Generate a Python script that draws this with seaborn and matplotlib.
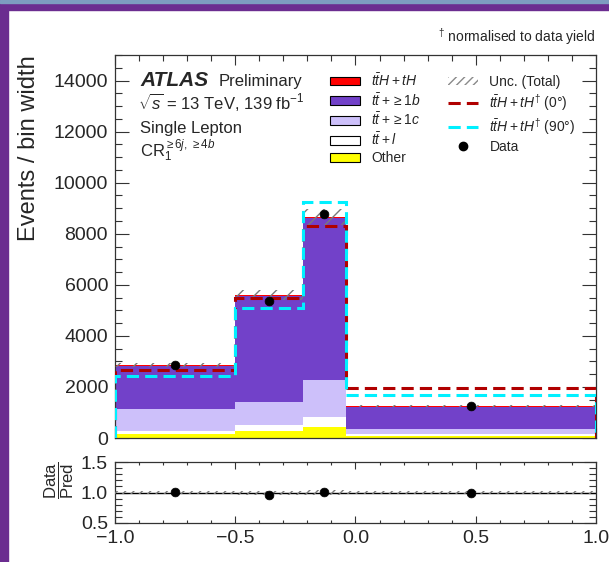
import matplotlib
matplotlib.use('Agg')
import matplotlib.pyplot as plt
from matplotlib.patches import Patch, Rectangle
from matplotlib.lines import Line2D
from matplotlib.ticker import MultipleLocator
import numpy as np
import pandas as pd
import seaborn as sns

# Binning and yields (events / bin width)
edges = [-1.0, -0.5, -0.22, -0.04, 1.0]
other = [157, 287, 444, 60]
ttl = [130, 224, 370, 100]
ttc = [853, 916, 1467, 180]
ttb = [1664, 4129, 6331, 880]
tth = [55, 40, 51, 40]
unc = [90, 184, 303, 35]
tth_0deg = [2674, 5494, 8310, 1954]
tth_90deg = [2438, 5085, 9229, 1690]
data = [2870, 5360, 8770, 1255]

# seaborn stacks the last hue level at the bottom
samples = ['ttH', 'ttb', 'ttc', 'ttl', 'Other']
colors = {'Other': '#ffff00', 'ttl': '#ffffff', 'ttc': '#cdc0fa',
          'ttb': '#7241c9', 'ttH': '#ff0000'}

centers = [(lo + hi) / 2 for lo, hi in zip(edges[:-1], edges[1:])]
df = pd.DataFrame({
    'center': centers * 5,
    'yield': tth + ttb + ttc + ttl + other,
    'sample': [s for s in samples for _ in centers],
})
total = np.array(other) + np.array(ttl) + np.array(ttc) + np.array(ttb) + np.array(tth)
unc = np.array(unc)
data = np.array(data)

sns.set_theme(style='ticks')
plt.rcParams['font.family'] = ['Liberation Sans', 'DejaVu Sans']
plt.rcParams['mathtext.fontset'] = 'custom'
plt.rcParams['mathtext.rm'] = 'Liberation Sans'
plt.rcParams['mathtext.it'] = 'Liberation Sans:italic'
plt.rcParams['mathtext.bf'] = 'Liberation Sans:bold'
plt.rcParams['hatch.color'] = '#7a7a7a'
plt.rcParams['hatch.linewidth'] = 1.0

fig = plt.figure(figsize=(6.09, 5.62), dpi=100)
ax = fig.add_axes([0.1888, 0.2206, 0.7898, 0.6815])
rax = fig.add_axes([0.1888, 0.0694, 0.7898, 0.1085], sharex=ax)

# stacked backgrounds
sns.histplot(data=df, x='center', weights='yield', hue='sample', hue_order=samples,
             palette=colors, bins=edges, multiple='stack', element='step',
             fill=True, alpha=1, linewidth=0, legend=False, ax=ax)

# uncertainty band
ax.stairs(total + unc, edges, baseline=total - unc, fill=True, facecolor='none',
          edgecolor='#7a7a7a', hatch='//', linewidth=0, zorder=3)

# signal shapes
ax.stairs(tth_0deg, edges, baseline=0, color='#b00000', linestyle=(0, (4, 2)),
          linewidth=2.2, zorder=4)
ax.stairs(tth_90deg, edges, baseline=0, color='#00f0ff', linestyle=(0, (4, 2)),
          linewidth=2.2, zorder=4)

# data
ax.errorbar(centers, data, yerr=np.sqrt(data), fmt='none', ecolor='black', lw=1, zorder=5)
sns.scatterplot(x=centers, y=data, color='black', s=40, edgecolor='black', ax=ax,
                zorder=6, legend=False)

ax.set_xlim(-1, 1)
ax.set_ylim(0, 15000)
ax.yaxis.set_major_locator(MultipleLocator(2000))
ax.yaxis.set_minor_locator(MultipleLocator(500))
ax.set_xlabel('')
ax.set_ylabel('Events / bin width', fontsize=17, loc='top')
ax.yaxis.set_label_coords(-0.155, 1.0)

# ratio panel
ratio = data / total
rel = unc / total
rax.stairs(1 + rel, edges, baseline=1 - rel, fill=True, facecolor='none',
           edgecolor='#7a7a7a', hatch='////', linewidth=0, zorder=3)
rax.axhline(1.0, color='black', lw=1, zorder=2)
sns.scatterplot(x=centers, y=ratio, color='black', s=40, edgecolor='black', ax=rax,
                zorder=6, legend=False)
rax.set_ylim(0.5, 1.5)
rax.yaxis.set_major_locator(MultipleLocator(0.5))
rax.yaxis.set_minor_locator(MultipleLocator(0.1))
rax.set_ylabel(r'$\dfrac{\mathrm{Data}}{\mathrm{Pred}}$', fontsize=12)
rax.yaxis.set_label_coords(-0.082, 0.7)

for a in (ax, rax):
    a.xaxis.set_major_locator(MultipleLocator(0.5))
    a.xaxis.set_minor_locator(MultipleLocator(0.1))
    a.tick_params(which='both', direction='in', top=True, right=True,
                  labelsize=14, pad=5, color='#333333', width=0.8)
    for sp in a.spines.values():
        sp.set_linewidth(0.9)
        sp.set_color('#333333')
ax.tick_params(axis='y', which='major', length=10)
ax.tick_params(axis='y', which='minor', length=5)
ax.tick_params(axis='x', which='major', length=7)
ax.tick_params(axis='x', which='minor', length=4)
ax.tick_params(labelbottom=False)
rax.tick_params(axis='y', which='major', length=9)
rax.tick_params(axis='y', which='minor', length=5)
rax.tick_params(axis='x', which='major', length=5)
rax.tick_params(axis='x', which='minor', length=2.5)
rax.set_xlabel('')

# labels
ax.text(0.052, 0.918, 'ATLAS', fontsize=15, fontweight='bold', fontstyle='italic',
        transform=ax.transAxes, va='baseline')
ax.text(0.216, 0.918, 'Preliminary', fontsize=12, transform=ax.transAxes, va='baseline')
ax.text(0.048, 0.860, r'$\sqrt{s}$ = 13 TeV, 139 fb$^{-1}$', fontsize=12,
        transform=ax.transAxes, va='baseline')
ax.text(0.052, 0.797, 'Single Lepton', fontsize=12, transform=ax.transAxes, va='baseline')
ax.text(0.052, 0.734, r'CR$_{1}^{\geq 6j,\,\geq 4b}$', fontsize=12,
        transform=ax.transAxes, va='baseline')
ax.text(1.0, 1.047, r'$^{\dagger}$ normalised to data yield', fontsize=10,
        transform=ax.transAxes, ha='right', va='center')

handles = [
    Patch(facecolor=colors['ttH'], edgecolor='black', linewidth=0.8),
    Patch(facecolor=colors['ttb'], edgecolor='black', linewidth=0.8),
    Patch(facecolor=colors['ttc'], edgecolor='black', linewidth=0.8),
    Patch(facecolor=colors['ttl'], edgecolor='black', linewidth=0.8),
    Patch(facecolor=colors['Other'], edgecolor='black', linewidth=0.8),
    Patch(facecolor='none', edgecolor='#8a8a8a', hatch='////', linewidth=0),
    Line2D([], [], color='#b00000', linestyle=(0, (4, 2)), linewidth=2.2),
    Line2D([], [], color='#00f0ff', linestyle=(0, (4, 2)), linewidth=2.2),
    Line2D([], [], color='black', marker='o', linestyle='none', markersize=6),
]
labels = [r'$t\bar{t}H+tH$', r'$t\bar{t}+\geq 1b$', r'$t\bar{t}+\geq 1c$', r'$t\bar{t}+l$',
          'Other', 'Unc. (Total)', r'$t\bar{t}H+tH^{\dagger}$ (0°)',
          r'$t\bar{t}H+tH^{\dagger}$ (90°)', 'Data']
ax.legend(handles, labels, ncol=2, loc='upper left', bbox_to_anchor=(0.447, 0.955),
          frameon=False, fontsize=10, handlelength=2.15, handleheight=0.6,
          handletextpad=0.8, columnspacing=2.0, labelspacing=0.22,
          borderpad=0, borderaxespad=0)

# slide frame around the screenshot
fig.add_artist(Rectangle((0, 0), 8 / 609, 1, transform=fig.transFigure,
                         color='#6b2d90', zorder=10))
fig.add_artist(Rectangle((0, 1 - 10 / 562), 1, 10 / 562, transform=fig.transFigure,
                         color='#6b2d90', zorder=10))
fig.add_artist(Rectangle((0, 1 - 3 / 562), 1, 3 / 562, transform=fig.transFigure,
                         color='#7d9cc0', zorder=11))

fig.savefig('out.png', dpi=100)
